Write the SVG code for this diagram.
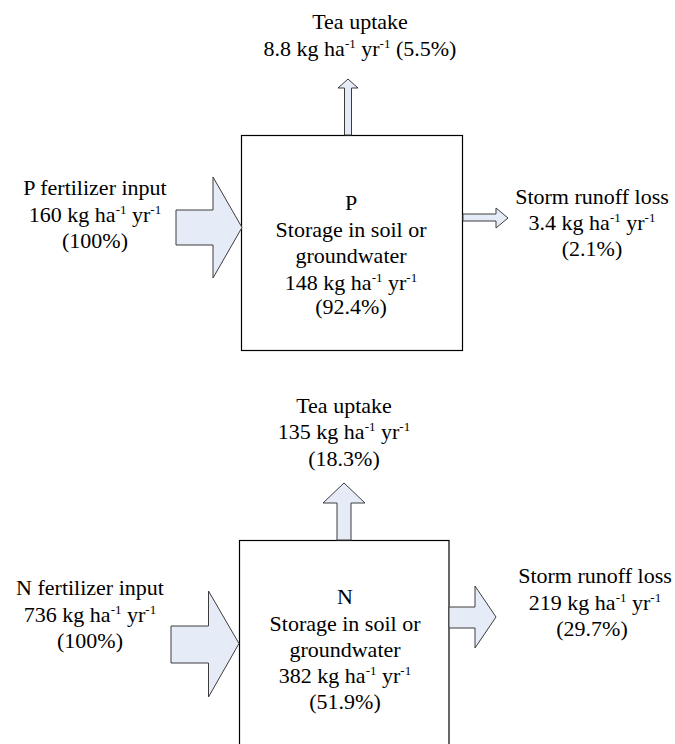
<svg xmlns="http://www.w3.org/2000/svg" width="675" height="744" viewBox="0 0 675 744">
<style>
text{font-family:"Liberation Serif","Times New Roman",serif;font-size:22px;fill:#000;text-anchor:middle}
.sup{font-size:13px}
.arrow{fill:#e6ecf7;stroke:#3c3c3c;stroke-width:1;stroke-linejoin:miter}
.box{fill:#fff;stroke:#000;stroke-width:1.2}
</style>
<rect width="675" height="744" fill="#fff"/>
<g id="p-storage">
<rect class="box" x="241.5" y="135.5" width="221" height="215"/>
<text x="351" y="210">P</text>
<text x="351" y="237">Storage in soil or</text>
<text x="351" y="263">groundwater</text>
<text x="351" y="290">148 kg ha<tspan class="sup" dy="-8">-1</tspan><tspan dy="8"> yr</tspan><tspan class="sup" dy="-8">-1</tspan></text>
<text x="351" y="314">(92.4%)</text>
</g>
<g id="p-tea">
<text x="360" y="29">Tea uptake</text>
<text x="360" y="56">8.8 kg ha<tspan class="sup" dy="-8">-1</tspan><tspan dy="8"> yr</tspan><tspan class="sup" dy="-8">-1</tspan><tspan dy="8"> (5.5%)</tspan></text>
</g>
<g id="p-input">
<text x="95" y="195">P fertilizer input</text>
<text x="95" y="222">160 kg ha<tspan class="sup" dy="-8">-1</tspan><tspan dy="8"> yr</tspan><tspan class="sup" dy="-8">-1</tspan></text>
<text x="95" y="248">(100%)</text>
</g>
<g id="p-runoff">
<text x="592" y="204">Storm runoff loss</text>
<text x="592" y="230">3.4 kg ha<tspan class="sup" dy="-8">-1</tspan><tspan dy="8"> yr</tspan><tspan class="sup" dy="-8">-1</tspan></text>
<text x="592" y="256">(2.1%)</text>
</g>
<g id="n-storage">
<rect class="box" x="239.5" y="540.5" width="209.5" height="230"/>
<text x="345" y="604">N</text>
<text x="345" y="631">Storage in soil or</text>
<text x="345" y="657">groundwater</text>
<text x="345" y="683">382 kg ha<tspan class="sup" dy="-8">-1</tspan><tspan dy="8"> yr</tspan><tspan class="sup" dy="-8">-1</tspan></text>
<text x="345" y="709">(51.9%)</text>
</g>
<g id="n-tea">
<text x="344" y="413">Tea uptake</text>
<text x="344" y="439">135 kg ha<tspan class="sup" dy="-8">-1</tspan><tspan dy="8"> yr</tspan><tspan class="sup" dy="-8">-1</tspan></text>
<text x="344" y="466">(18.3%)</text>
</g>
<g id="n-input">
<text x="90" y="595">N fertilizer input</text>
<text x="90" y="622">736 kg ha<tspan class="sup" dy="-8">-1</tspan><tspan dy="8"> yr</tspan><tspan class="sup" dy="-8">-1</tspan></text>
<text x="90" y="648">(100%)</text>
</g>
<g id="n-runoff">
<text x="595" y="583">Storm runoff loss</text>
<text x="595" y="610">219 kg ha<tspan class="sup" dy="-8">-1</tspan><tspan dy="8"> yr</tspan><tspan class="sup" dy="-8">-1</tspan></text>
<text x="592" y="636">(29.7%)</text>
</g>
<g id="connectors">
<polygon class="arrow" points="344.5,135 344.5,88 338,88 348,79 358,88 351.5,88 351.5,135"/>
<polygon class="arrow" points="176,210 213,210 213,177 242,227.5 213,278 213,245 176,245"/>
<polygon class="arrow" points="463,214 496,214 496,208 508,218 496,228 496,221 463,221"/>
<polygon class="arrow" points="337,540 337,503 323,503 344,483 365,503 351,503 351,540"/>
<polygon class="arrow" points="171,626 208.5,626 208.5,591 239,643.5 208.5,697 208.5,663 171,663"/>
<polygon class="arrow" points="449,607 475,607 475,586 496,617 475,648 475,628 449,628"/>
</g>
</svg>
